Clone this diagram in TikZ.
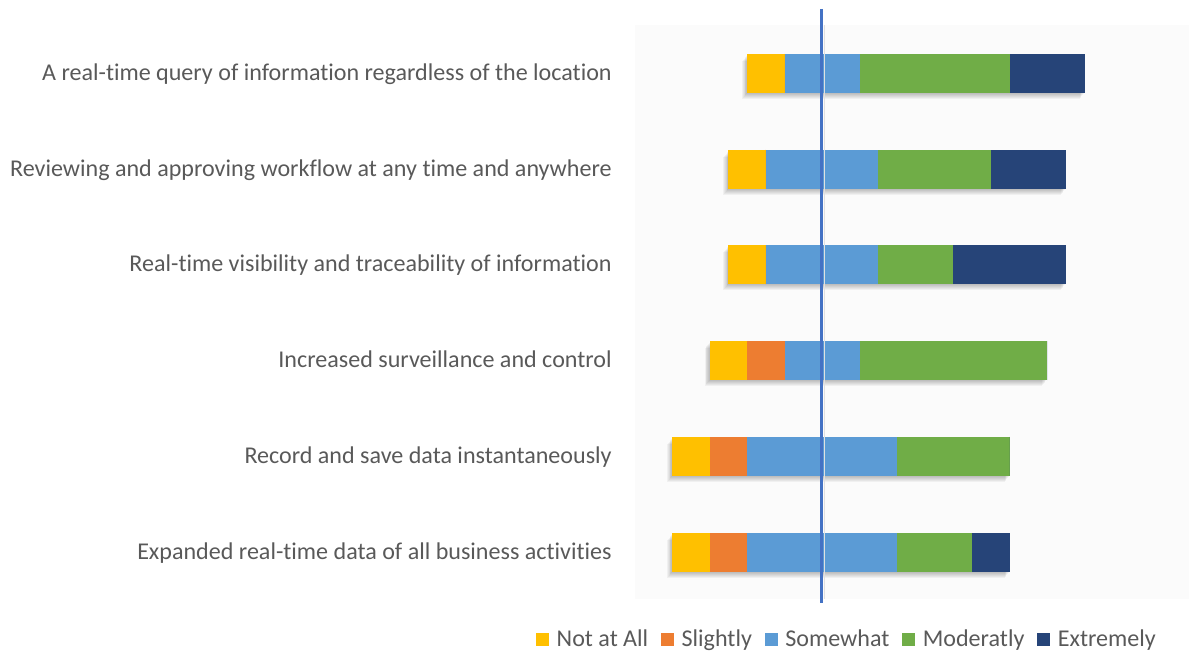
\documentclass[tikz,border=0pt]{standalone}
\usepackage{fontspec}
\setmainfont[Ligatures=NoCommon]{Carlito}
\usetikzlibrary{positioning, calc}

\definecolor{notatall}{HTML}{FFC000}
\definecolor{slightly}{HTML}{ED7D31}
\definecolor{somewhat}{HTML}{5B9BD5}
\definecolor{moderatly}{HTML}{70AD47}
\definecolor{extremely}{HTML}{264478}
\definecolor{axisblue}{HTML}{4472C4}
\definecolor{plotbg}{HTML}{FBFBFB}
\definecolor{txtgray}{HTML}{595959}

\begin{document}
\begin{tikzpicture}[x=0.02cm, y=-0.02cm,
	rowlabel/.style={anchor=east, inner sep=0pt, text=txtgray, text height=0.95em, text depth=0.15em, font=\fontsize{13.7}{16}\selectfont},
	key/.style={minimum size=0.26cm, inner sep=0pt},
	keytext/.style={inner sep=0pt, text=txtgray, text height=0.95em, text depth=0.15em, font=\fontsize{13.7}{16}\selectfont},
	axisline/.style={axisblue, line width=1.2pt}]
		\useasboundingbox (0,0) rectangle (1189,652);
		
		% Plot area
		\fill[plotbg] (635,25) rectangle (1189,599);
		
		% Bars, centred on the Somewhat segment
		\foreach \lab/\na/\sl/\sw/\mo/\ex [count=\i] in {
			A real-time query of information regardless of the location/1/0/2/4/2,
			Reviewing and approving workflow at any time and anywhere/1/0/3/3/2,
			Real-time visibility and traceability of information/1/0/3/2/3,
			Increased surveillance and control/1/1/2/5/0,
			Record and save data instantaneously/1/1/4/3/0,
			Expanded real-time data of all business activities/1/1/4/2/1}{
			\pgfmathsetmacro{\yc}{73.5+95.7*(\i-1)}
			\pgfmathsetmacro{\xa}{822-37.5*(\na+\sl+\sw/2)}
			\pgfmathsetmacro{\xb}{\xa+37.5*\na}
			\pgfmathsetmacro{\xc}{\xb+37.5*\sl}
			\pgfmathsetmacro{\xd}{\xc+37.5*\sw}
			\pgfmathsetmacro{\xe}{\xd+37.5*\mo}
			\pgfmathsetmacro{\xf}{\xe+37.5*\ex}
			% soft shadow
			\foreach \s in {1,...,6}
				\fill[black, opacity=0.045] (\xa-0.8*\s,\yc-18.5+\s) rectangle (\xf-0.8*\s,\yc+19.5+\s);
			\fill[notatall] (\xa,\yc-19.5) rectangle (\xb,\yc+19.5);
			\fill[slightly] (\xb,\yc-19.5) rectangle (\xc,\yc+19.5);
			\fill[somewhat] (\xc,\yc-19.5) rectangle (\xd,\yc+19.5);
			\fill[moderatly] (\xd,\yc-19.5) rectangle (\xe,\yc+19.5);
			\fill[extremely] (\xe,\yc-19.5) rectangle (\xf,\yc+19.5);
			\node[rowlabel] (lab\i) at (612,\yc) {\lab};
		}
		
		% Vertical axis
		\coordinate (axtop) at (821.5,9);
		\coordinate (axbot) at (821.5,603);
		\draw[black!12, line width=0.8pt] ($(axtop)+(3,16)$) -- ($(axbot)+(3,-4)$);
		\draw[axisline] (axtop) -- (axbot);
		
		% Legend
		\node[key, fill=notatall] (k1) at (542.5,639.5) {};
		\node[keytext, right=0.14cm of k1] (t1) {Not at All};
		\node[key, fill=slightly, right=0.24cm of t1] (k2) {};
		\node[keytext, right=0.14cm of k2] (t2) {Slightly};
		\node[key, fill=somewhat, right=0.24cm of t2] (k3) {};
		\node[keytext, right=0.14cm of k3] (t3) {Somewhat};
		\node[key, fill=moderatly, right=0.24cm of t3] (k4) {};
		\node[keytext, right=0.14cm of k4] (t4) {Moderatly};
		\node[key, fill=extremely, right=0.24cm of t4] (k5) {};
		\node[keytext, right=0.14cm of k5] (t5) {Extremely};
\end{tikzpicture}
\end{document}
